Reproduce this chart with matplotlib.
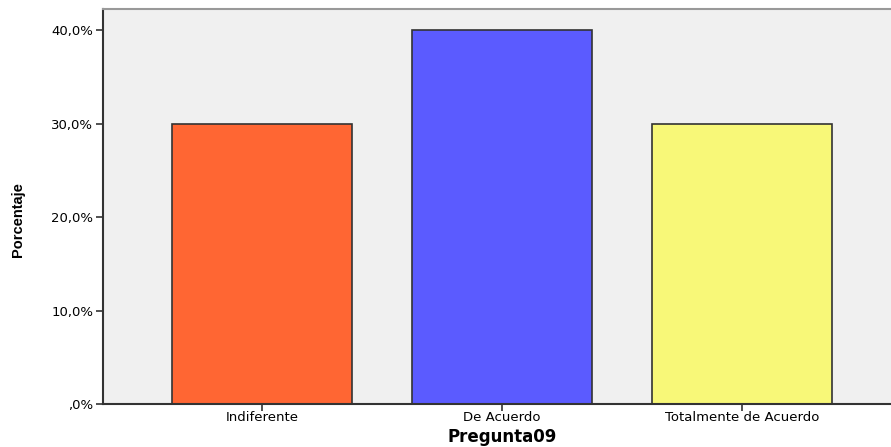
import matplotlib.pyplot as plt
from matplotlib.ticker import FuncFormatter

# datos
categorias = ['Indiferente', 'De Acuerdo', 'Totalmente de Acuerdo']
porcentajes = [30.0, 40.0, 30.0]
colores = ['#FF6633', '#5B5BFF', '#F8F878']

fig = plt.figure(figsize=(8.91, 4.47), dpi=100)
ax = fig.add_axes([103/891, 43/447, 798/891, 395/447])
ax.set_facecolor('#F0F0F0')

x = range(len(categorias))
ax.bar(x, porcentajes, width=0.75, color=colores, edgecolor='#333333', linewidth=1.2)

ax.set_xlim(-0.6625, 2.6625)
ax.set_ylim(0, 42.25)
ax.set_xticks(list(x))
ax.set_xticklabels(categorias)
ax.set_yticks([0, 10, 20, 30, 40])

def fmt(v, pos):
    s = f'{v:.1f}'.replace('.', ',')
    if s.startswith('0'):
        s = s[1:]
    return s + '%'

ax.yaxis.set_major_formatter(FuncFormatter(fmt))
ax.tick_params(axis='y', labelsize=9.5, length=5, width=1.2, color='#333333', pad=2)
ax.tick_params(axis='x', labelsize=9.5, length=5, width=1.2, color='#333333', pad=0)

for s in ['left', 'bottom']:
    ax.spines[s].set_color('#333333')
    ax.spines[s].set_linewidth(1.5)
ax.spines['top'].set_color('#999999')
ax.spines['top'].set_linewidth(1.5)
ax.spines['right'].set_visible(False)

ax.set_xlabel('Pregunta09', fontsize=12, fontweight='bold')
ax.xaxis.set_label_coords((502 - 103) / 798, -(437 - 404) / 395)
ax.xaxis.label.set_va('center')
ax.set_ylabel('Porcentaje', fontsize=10.5, fontweight='bold',
              family=['Liberation Sans', 'DejaVu Sans'])
ax.yaxis.set_label_coords((18 - 103) / 798, (404 - 220) / 395)
ax.yaxis.label.set_va('center')

fig.savefig('out.png', dpi=100)
